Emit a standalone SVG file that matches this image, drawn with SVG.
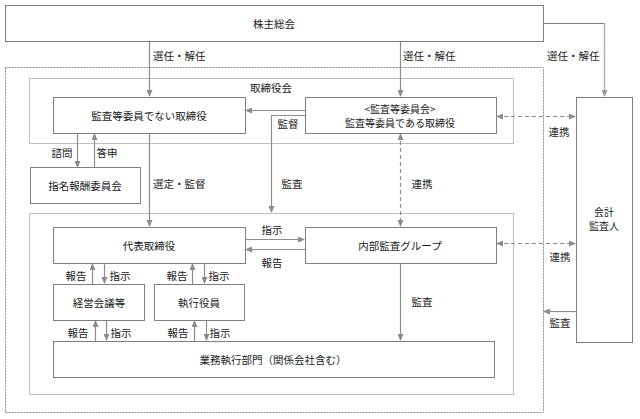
<svg xmlns="http://www.w3.org/2000/svg" width="640" height="419" viewBox="0 0 640 419">
<defs>
<marker id="ah" markerWidth="7" markerHeight="6" refX="6" refY="3" orient="auto" markerUnits="userSpaceOnUse">
<path d="M0,0 L7,3 L0,6 Z" fill="#8c8c8c"/>
</marker>
<marker id="ahs" markerWidth="7" markerHeight="6" refX="1" refY="3" orient="auto" markerUnits="userSpaceOnUse">
<path d="M7,0 L0,3 L7,6 Z" fill="#8c8c8c"/>
</marker>
<marker id="ahl" markerWidth="7" markerHeight="6" refX="6" refY="3" orient="auto" markerUnits="userSpaceOnUse">
<path d="M0,0 L7,3 L0,6 Z" fill="#999999"/>
</marker>
</defs>
<style>
.box{fill:#ffffff;stroke:#7f7f7f;stroke-width:1}
.region{fill:none;stroke:#bfbfbf;stroke-width:1}
.outer{fill:none;stroke:#8c8c8c;stroke-width:1;stroke-dasharray:2,1}
.c{fill:none;stroke:#8c8c8c;stroke-width:1.2}
.d{fill:none;stroke:#8c8c8c;stroke-width:1.2;stroke-dasharray:4,3}
text{font-family:"Noto Sans CJK JP","Noto Sans",sans-serif;font-size:10.5px;fill:#1a1a1a;dominant-baseline:central}
.m{text-anchor:middle}
.s{font-size:10px}
</style>
<rect width="640" height="419" fill="#ffffff"/>

<g id="regions">
<rect class="outer" x="5.5" y="67.5" width="538" height="345"/>
<rect class="region" x="29.5" y="78.5" width="484" height="65"/>
<rect class="region" x="29.5" y="213.5" width="484" height="181"/>
<text class="m" x="271" y="87">取締役会</text>
</g>

<g id="connectors">
<path class="c" d="M149.5,41 V96" marker-end="url(#ah)"/>
<path class="c" d="M400.5,41 V96" marker-end="url(#ah)"/>
<path d="M543,23.5 H604.5" stroke="#808080" stroke-width="1.2" fill="none"/>
<path d="M604.5,23 V96" stroke="#b3b3b3" stroke-width="1.5" fill="none" marker-end="url(#ahl)"/>
<path class="c" d="M305,110.5 H246" marker-end="url(#ah)"/>
<path class="c" d="M305,115.5 H271.5 V212" marker-end="url(#ah)"/>
<path class="d" d="M497,116.5 H575" marker-start="url(#ahs)" marker-end="url(#ah)"/>
<path class="d" d="M400.5,134 V226" marker-start="url(#ahs)" marker-end="url(#ah)"/>
<path class="c" d="M77.5,133 V167" marker-end="url(#ah)"/>
<path class="c" d="M94.5,168 V134" marker-end="url(#ah)"/>
<path class="c" d="M149.5,133 V226" marker-end="url(#ah)"/>
<path class="c" d="M245,239.5 H304" marker-end="url(#ah)"/>
<path class="c" d="M305,249.5 H246" marker-end="url(#ah)"/>
<path class="d" d="M497,243.5 H575" marker-start="url(#ahs)" marker-end="url(#ah)"/>
<path class="c" d="M576,311.5 H544" marker-end="url(#ah)"/>
<path class="c" d="M400.5,263 V340" marker-end="url(#ah)"/>
<path class="c" d="M92.5,284 V264" marker-end="url(#ah)"/>
<path class="c" d="M104.5,263 V283" marker-end="url(#ah)"/>
<path class="c" d="M192.5,284 V264" marker-end="url(#ah)"/>
<path class="c" d="M204.5,263 V283" marker-end="url(#ah)"/>
<path class="c" d="M95.5,341 V321" marker-end="url(#ah)"/>
<path class="c" d="M106.5,320 V340" marker-end="url(#ah)"/>
<path class="c" d="M194.5,341 V321" marker-end="url(#ah)"/>
<path class="c" d="M206.5,320 V340" marker-end="url(#ah)"/>
<text x="153" y="55">選任・解任</text>
<text x="403" y="55">選任・解任</text>
<text x="547" y="55">選任・解任</text>
<text class="m" x="288" y="123">監督</text>
<text class="m" x="559" y="131">連携</text>
<text class="m" x="62" y="152">諮問</text>
<text class="m" x="107" y="152">答申</text>
<text x="153" y="183">選定・監督</text>
<text class="m" x="292" y="183">監査</text>
<text class="m" x="422" y="183">連携</text>
<text class="m" x="272" y="229">指示</text>
<text class="m" x="272" y="262">報告</text>
<text class="m" x="560" y="256">連携</text>
<text class="m" x="422" y="301">監査</text>
<text class="m" x="560" y="322">監査</text>
<text class="m" x="76" y="275">報告</text>
<text class="m" x="120" y="275">指示</text>
<text class="m" x="177" y="275">報告</text>
<text class="m" x="219" y="275">指示</text>
<text class="m" x="78" y="332">報告</text>
<text class="m" x="121" y="332">指示</text>
<text class="m" x="178" y="332">報告</text>
<text class="m" x="220" y="332">指示</text>
</g>

<g id="n-shareholders">
<rect class="box" x="5.5" y="5.5" width="538" height="36"/>
<text class="m" x="274" y="23">株主総会</text>
</g>
<g id="n-directors">
<rect class="box" x="53.5" y="97.5" width="192" height="36"/>
<text class="m" x="149" y="115">監査等委員でない取締役</text>
</g>
<g id="n-auditcommittee">
<rect class="box" x="305.5" y="97.5" width="191" height="36"/>
<text class="m s" x="400" y="108">&lt;監査等委員会&gt;</text>
<text class="m s" x="400" y="122">監査等委員である取締役</text>
</g>
<g id="n-nomination">
<rect class="box" x="30.5" y="167.5" width="110" height="36"/>
<text class="m" x="85" y="185">指名報酬委員会</text>
</g>
<g id="n-accountant">
<rect class="box" x="576.5" y="97.5" width="56" height="245"/>
<text class="m s" x="604" y="211">会計</text>
<text class="m s" x="604" y="225">監査人</text>
</g>
<g id="n-representative">
<rect class="box" x="53.5" y="227.5" width="192" height="36"/>
<text class="m" x="149" y="245">代表取締役</text>
</g>
<g id="n-internalaudit">
<rect class="box" x="305.5" y="227.5" width="191" height="36"/>
<text class="m" x="400" y="245">内部監査グループ</text>
</g>
<g id="n-management">
<rect class="box" x="53.5" y="284.5" width="91" height="36"/>
<text class="m" x="99" y="302">経営会議等</text>
</g>
<g id="n-officers">
<rect class="box" x="154.5" y="284.5" width="90" height="36"/>
<text class="m" x="199" y="302">執行役員</text>
</g>
<g id="n-operations">
<rect class="box" x="53.5" y="341.5" width="441" height="36"/>
<text class="m" x="273" y="359">業務執行部門（関係会社含む）</text>
</g>
</svg>
